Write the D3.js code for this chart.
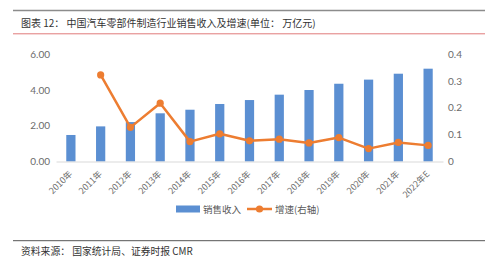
<!DOCTYPE html>
<html>
<head>
<meta charset="utf-8">
<script src="https://cdn.jsdelivr.net/npm/d3@7"></script>
<style>
  body { margin: 0; background: #fff; }
  svg { display: block; }
</style>
</head>
<body>
<svg id="chart"></svg>
<script>
// data
const years = ["2010年","2011年","2012年","2013年","2014年","2015年","2016年",
  "2017年","2018年","2019年","2020年","2021年","2022年E"];
const sales = [1.48, 1.96, 2.20, 2.69, 2.89, 3.21, 3.43, 3.73, 3.99, 4.34, 4.57, 4.90, 5.18];
const growth = [null, 0.322, 0.127, 0.217, 0.074, 0.103, 0.077, 0.083, 0.069, 0.089, 0.048, 0.071, 0.060];
const leftTicks = [0, 2, 4, 6];
const rightTicks = [0, 0.1, 0.2, 0.3, 0.4];

const width = 499, height = 266;
const svg = d3.select("#chart").attr("width", width).attr("height", height);
const cjk = "'Noto Sans CJK SC', sans-serif";
const num = "Lato, 'Noto Sans', sans-serif";

// header rules and title
svg.append("line").attr("x1", 13).attr("x2", 485).attr("y1", 10.5).attr("y2", 10.5)
  .attr("stroke", "#8c8c8c").attr("stroke-width", 1.5);
svg.append("line").attr("x1", 13).attr("x2", 485).attr("y1", 33.8).attr("y2", 33.8)
  .attr("stroke", "#e07b7b").attr("stroke-width", 1);
svg.append("text").attr("x", 21).attr("y", 26.5)
  .attr("font-family", cjk).attr("font-size", 10).attr("fill", "#333")
  .text("图表 12： 中国汽车零部件制造行业销售收入及增速(单位： 万亿元)");

// scales
const x = d3.scaleBand().domain(years).range([56, 443]).paddingInner(0.69).paddingOuter(0.345);
const yL = d3.scaleLinear().domain([0, 6]).range([161.5, 54]);
const yR = d3.scaleLinear().domain([0, 0.4]).range([161.5, 54]);

// left axis
const axL = svg.append("g").attr("transform", "translate(50,0)")
  .call(d3.axisLeft(yL).tickValues(leftTicks).tickFormat(d3.format(".2f")).tickSize(0).tickPadding(0));
axL.select(".domain").remove();
axL.selectAll("text").attr("font-family", num).attr("font-size", 10).attr("fill", "#6b6b6b");

// right axis
const axR = svg.append("g").attr("transform", "translate(448,0)")
  .call(d3.axisRight(yR).tickValues(rightTicks).tickFormat(d => d === 0 ? "0" : d3.format(".1f")(d)).tickSize(0).tickPadding(0));
axR.select(".domain").remove();
axR.selectAll("text").attr("font-family", num).attr("font-size", 10).attr("fill", "#6b6b6b");

// bars
svg.append("g").selectAll("rect").data(sales).join("rect")
  .attr("x", (d, i) => x(years[i]))
  .attr("width", x.bandwidth())
  .attr("y", d => yL(d))
  .attr("height", d => yL(0) - yL(d))
  .attr("fill", "#5b8fd2");

// bottom axis
const axB = svg.append("g").attr("transform", "translate(0,161.5)")
  .call(d3.axisBottom(x).tickSize(0).tickPadding(0));
axB.select(".domain").attr("stroke", "#d9d9d9").attr("stroke-width", 1.2);
axB.selectAll("text")
  .attr("font-family", cjk).attr("font-size", 8.8).attr("fill", "#6b6b6b")
  .attr("text-anchor", "end")
  .attr("dy", 0).attr("y", 0)
  .attr("transform", "translate(2,13) rotate(-45)");

// growth line
const pts = growth.map((g, i) => ({ g, c: years[i] })).filter(d => d.g !== null);
const line = d3.line().x(d => x(d.c) + x.bandwidth() / 2).y(d => yR(d.g));
svg.append("path").datum(pts).attr("d", line)
  .attr("fill", "none").attr("stroke", "#ed7d31").attr("stroke-width", 2.5)
  .attr("stroke-linejoin", "round");
svg.append("g").selectAll("circle").data(pts).join("circle")
  .attr("cx", d => x(d.c) + x.bandwidth() / 2).attr("cy", d => yR(d.g))
  .attr("r", 3.6).attr("fill", "#ed7d31");

// legend
const lg = svg.append("g");
lg.append("rect").attr("x", 176).attr("y", 205.5).attr("width", 24).attr("height", 7).attr("fill", "#5b8fd2");
lg.append("text").attr("x", 203).attr("y", 212.5).attr("font-family", cjk).attr("font-size", 9.5)
  .attr("fill", "#595959").text("销售收入");
lg.append("line").attr("x1", 247).attr("x2", 272).attr("y1", 209).attr("y2", 209)
  .attr("stroke", "#ed7d31").attr("stroke-width", 2.5);
lg.append("circle").attr("cx", 259.5).attr("cy", 209).attr("r", 3.6).attr("fill", "#ed7d31");
lg.append("text").attr("x", 275).attr("y", 212.5).attr("font-family", cjk).attr("font-size", 9.5)
  .attr("fill", "#595959").text("增速(右轴)");

// footer
svg.append("line").attr("x1", 13).attr("x2", 485).attr("y1", 240.7).attr("y2", 240.7)
  .attr("stroke", "#555").attr("stroke-width", 1);
svg.append("text").attr("x", 21).attr("y", 255)
  .attr("font-family", cjk).attr("font-size", 9.8).attr("fill", "#333")
  .text("资料来源： 国家统计局、证券时报 CMR");
</script>
</body>
</html>
